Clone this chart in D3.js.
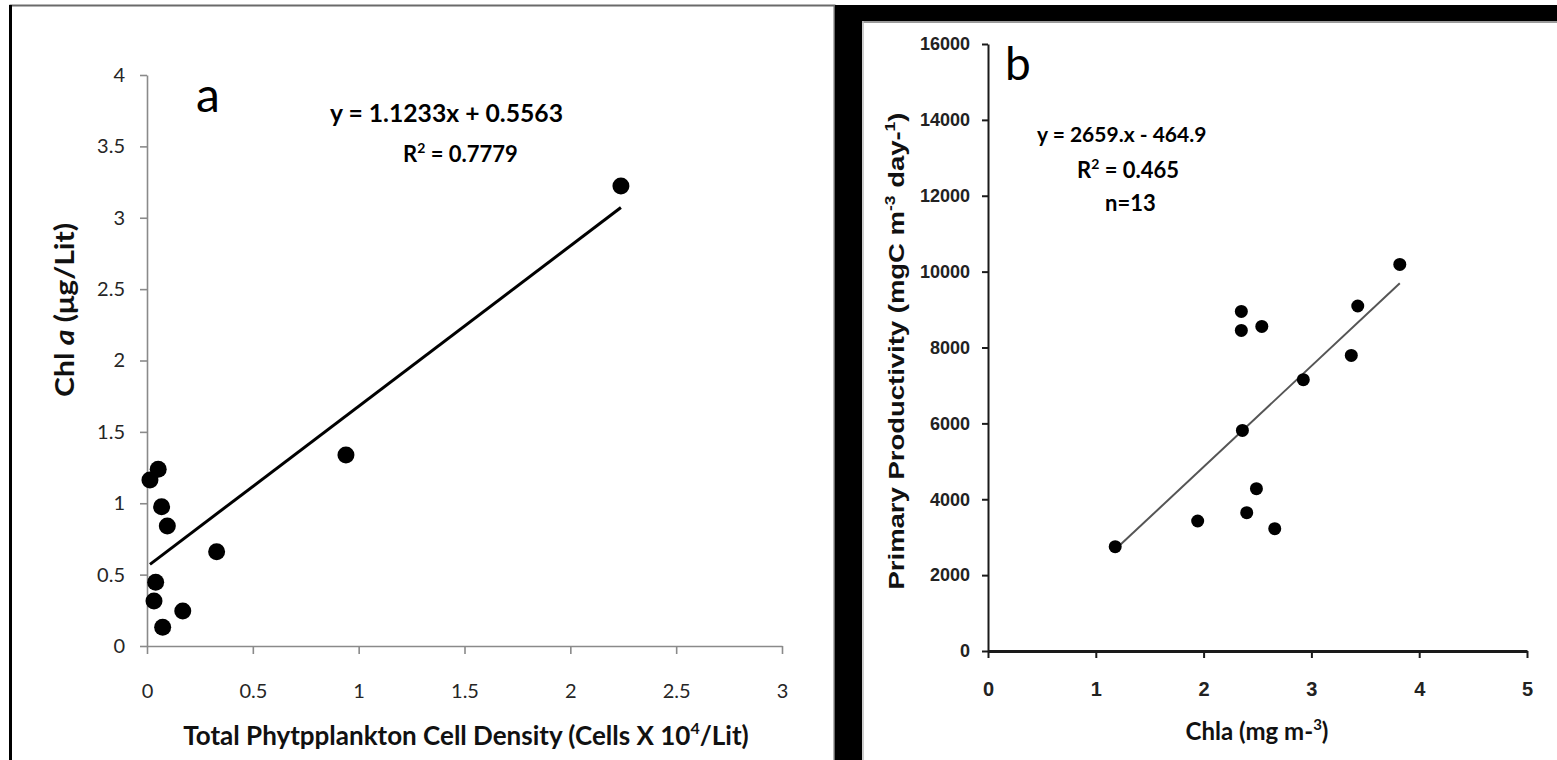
<!DOCTYPE html>
<html>
<head>
<meta charset="utf-8">
<script src="https://cdnjs.cloudflare.com/ajax/libs/d3/7.8.5/d3.min.js"></script>
<style>
  body { margin: 0; background: #fff; }
  svg { display: block; }
</style>
</head>
<body>
<div id="chart"></div>
<script>
'use strict';

// panel a: cell density vs chl a
var densityX = [0.014, 0.053, 0.069, 0.096, 0.329, 0.041, 0.033, 0.169, 0.074, 0.94, 2.239];
var chlY     = [1.163, 1.238, 0.976, 0.84, 0.66, 0.446, 0.315, 0.245, 0.131, 1.338, 3.222];
var ticksAX = [0, 0.5, 1, 1.5, 2, 2.5, 3];
var ticksAY = [0, 0.5, 1, 1.5, 2, 2.5, 3, 3.5, 4];
var fitA = { slope: 1.1233, intercept: 0.5563 };

// panel b: chla vs primary productivity
var chlaX = [3.82, 3.43, 2.35, 2.35, 2.54, 3.37, 2.925, 2.36, 2.49, 2.40, 1.945, 2.66, 1.18];
var prodY = [10190, 9094, 8950, 8450, 8556, 7792, 7152, 5815, 4279, 3647, 3426, 3225, 2750];
var ticksBX = [0, 1, 2, 3, 4, 5];
var ticksBY = [0, 2000, 4000, 6000, 8000, 10000, 12000, 14000, 16000];
var fitB = { slope: 2659, intercept: -464.9 };

var W = 1557, H = 760;
var svg = d3.select('#chart').append('svg')
    .attr('width', W)
    .attr('height', H);

var calibri = 'Lato, Carlito, Calibri, sans-serif';
var arial = '"Liberation Sans", Arial, sans-serif';

// ---------- frames ----------
// left panel border
svg.append('rect').attr('x', 10.5).attr('y', 5.5).attr('width', 824).attr('height', 780)
    .attr('fill', '#fff').attr('stroke', '#6a6a6a').attr('stroke-width', 2);
svg.append('rect').attr('x', 9).attr('y', 5).attr('width', 3).attr('height', 760).attr('fill', '#000');

// right panel thick black frame
svg.append('rect').attr('x', 835).attr('y', 5).attr('width', 27).attr('height', 760).attr('fill', '#000');
svg.append('rect').attr('x', 835).attr('y', 5).attr('width', 722).attr('height', 16).attr('fill', '#000');
svg.append('line').attr('x1', 862).attr('x2', W).attr('y1', 22).attr('y2', 22)
    .attr('stroke', '#9a9a9a').attr('stroke-width', 2);
svg.append('line').attr('x1', 863).attr('x2', 863).attr('y1', 21).attr('y2', H)
    .attr('stroke', '#bbb').attr('stroke-width', 1.5);

// ---------- panel a ----------
var xA = d3.scaleLinear().domain([0, 3]).range([147, 782]);
var yA = d3.scaleLinear().domain([0, 4]).range([646, 75]);

var gAx = svg.append('g').attr('transform', 'translate(0,' + yA(0) + ')')
    .call(d3.axisBottom(xA).tickValues(ticksAX).tickFormat(String).tickSize(8).tickPadding(30).tickSizeOuter(0));
var gAy = svg.append('g').attr('transform', 'translate(' + xA(0) + ',0)')
    .call(d3.axisLeft(yA).tickValues(ticksAY).tickFormat(String).tickSize(7).tickPadding(15).tickSizeOuter(0));

[gAx, gAy].forEach(function(g) {
    g.select('.domain').attr('stroke', '#8a8a8a').attr('stroke-width', 1.6);
    g.selectAll('.tick line').attr('stroke', '#8a8a8a').attr('stroke-width', 1.6);
    g.selectAll('.tick text').attr('fill', '#262626')
        .style('font-family', calibri).style('font-size', '20px');
});

// trend line a
var xaMin = d3.min(densityX), xaMax = d3.max(densityX);
svg.append('line')
    .attr('x1', xA(xaMin)).attr('y1', yA(fitA.slope * xaMin + fitA.intercept))
    .attr('x2', xA(xaMax)).attr('y2', yA(fitA.slope * xaMax + fitA.intercept))
    .attr('stroke', '#000').attr('stroke-width', 3);

svg.append('g').selectAll('circle')
    .data(densityX)
    .enter().append('circle')
    .attr('cx', function(d) { return xA(d); })
    .attr('cy', function(d, i) { return yA(chlY[i]); })
    .attr('r', 8.5)
    .attr('fill', '#000');

svg.append('text').attr('x', 196).attr('y', 112)
    .style('font-family', calibri).style('font-size', '48px').text('a');

svg.append('text').attr('x', 330).attr('y', 122)
    .attr('textLength', 233).attr('lengthAdjust', 'spacingAndGlyphs')
    .style('font-family', calibri).style('font-size', '24px').style('font-weight', 'bold')
    .text('y = 1.1233x + 0.5563');

var r2a = svg.append('text').attr('x', 403).attr('y', 162)
    .style('font-family', calibri).style('font-size', '22px').style('font-weight', 'bold');
r2a.append('tspan').text('R');
r2a.append('tspan').attr('dy', -9).style('font-size', '14px').text('2');
r2a.append('tspan').attr('dy', 9).text(' = 0.7779');

var xlabA = svg.append('text').attr('x', 466).attr('y', 745).attr('text-anchor', 'middle')
    .attr('fill', '#111')
    .style('font-family', calibri).style('font-size', '26px').style('font-weight', 'bold');
xlabA.append('tspan').text('Total Phytpplankton Cell Density (Cells X 10');
xlabA.append('tspan').attr('dy', -11).style('font-size', '16px').text('4');
xlabA.append('tspan').attr('dy', 11).text('/Lit)');

var ylabA = svg.append('text').attr('transform', 'translate(74,310) rotate(-90)')
    .attr('text-anchor', 'middle').attr('fill', '#111')
    .attr('textLength', 174).attr('lengthAdjust', 'spacingAndGlyphs')
    .style('font-family', calibri).style('font-size', '26px').style('font-weight', 'bold');
ylabA.append('tspan').text('Chl ');
ylabA.append('tspan').style('font-style', 'italic').text('a');
ylabA.append('tspan').text(' (\u03bcg/Lit)');

// ---------- panel b ----------
var xB = d3.scaleLinear().domain([0, 5]).range([988, 1527]);
var yB = d3.scaleLinear().domain([0, 16000]).range([651, 44]);

var gBx = svg.append('g').attr('transform', 'translate(0,' + yB(0) + ')')
    .call(d3.axisBottom(xB).tickValues(ticksBX).tickFormat(String).tickSize(7).tickPadding(24).tickSizeOuter(0));
var gBy = svg.append('g').attr('transform', 'translate(' + xB(0) + ',0)')
    .call(d3.axisLeft(yB).tickValues(ticksBY).tickFormat(String).tickSize(6).tickPadding(12).tickSizeOuter(0));

gBx.select('.domain').attr('stroke', '#1a1a1a').attr('stroke-width', 2.8);
gBy.select('.domain').attr('stroke', '#1a1a1a').attr('stroke-width', 2);
[gBx, gBy].forEach(function(g) {
    g.selectAll('.tick line').attr('stroke', '#1a1a1a').attr('stroke-width', 2);
    g.selectAll('.tick text').attr('fill', '#222')
        .style('font-family', arial).style('font-weight', 'bold');
});
gBx.selectAll('.tick text').style('font-size', '20px');
gBy.selectAll('.tick text').style('font-size', '18px');

// trend line b
var xbMin = d3.min(chlaX), xbMax = d3.max(chlaX);
svg.append('line')
    .attr('x1', xB(xbMin)).attr('y1', yB(fitB.slope * xbMin + fitB.intercept))
    .attr('x2', xB(xbMax)).attr('y2', yB(fitB.slope * xbMax + fitB.intercept))
    .attr('stroke', '#555').attr('stroke-width', 2);

svg.append('g').selectAll('circle')
    .data(chlaX)
    .enter().append('circle')
    .attr('cx', function(d) { return xB(d); })
    .attr('cy', function(d, i) { return yB(prodY[i]); })
    .attr('r', 6.5)
    .attr('fill', '#000');

svg.append('text').attr('x', 1005).attr('y', 80)
    .style('font-family', calibri).style('font-size', '46px').text('b');

svg.append('text').attr('x', 1037).attr('y', 142)
    .style('font-family', calibri).style('font-size', '21px').style('font-weight', 'bold')
    .text('y = 2659.x - 464.9');

var r2b = svg.append('text').attr('x', 1077).attr('y', 178)
    .style('font-family', calibri).style('font-size', '22px').style('font-weight', 'bold');
r2b.append('tspan').text('R');
r2b.append('tspan').attr('dy', -9).style('font-size', '14px').text('2');
r2b.append('tspan').attr('dy', 9).text(' = 0.465');

svg.append('text').attr('x', 1105).attr('y', 211)
    .style('font-family', calibri).style('font-size', '22px').style('font-weight', 'bold')
    .text('n=13');

var xlabB = svg.append('text').attr('x', 1257).attr('y', 740).attr('text-anchor', 'middle')
    .attr('fill', '#111')
    .style('font-family', calibri).style('font-size', '24px').style('font-weight', 'bold');
xlabB.append('tspan').text('Chla (mg m-');
xlabB.append('tspan').attr('dy', -10).style('font-size', '15px').text('3');
xlabB.append('tspan').attr('dy', 10).text(')');

var ylabB = svg.append('text').attr('transform', 'translate(904,351) rotate(-90)')
    .attr('text-anchor', 'middle').attr('fill', '#111')
    .attr('textLength', 477).attr('lengthAdjust', 'spacingAndGlyphs')
    .style('font-family', arial).style('font-size', '22px').style('font-weight', 'bold');
ylabB.append('tspan').text('Primary Productivity (mgC m');
ylabB.append('tspan').attr('dy', -9).style('font-size', '14px').text('-3');
ylabB.append('tspan').attr('dy', 9).text(' day-');
ylabB.append('tspan').attr('dy', -9).style('font-size', '14px').text('1');
ylabB.append('tspan').attr('dy', 9).text(')');
</script>
</body>
</html>
